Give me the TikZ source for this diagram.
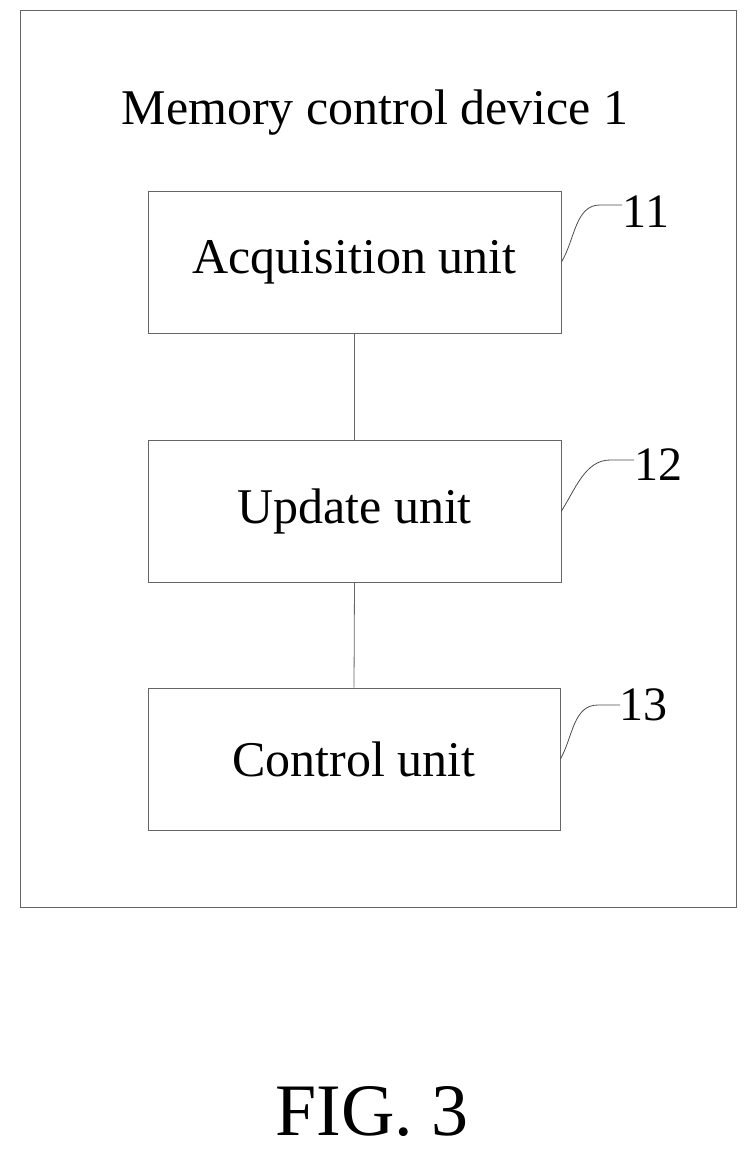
\documentclass[tikz,border=0pt]{standalone}
\usepackage{fontspec}
\setmainfont{Liberation Serif}
\begin{document}
\begin{tikzpicture}[x=1pt,y=-1pt,
  box/.style={draw=black!60,line width=0.8pt,minimum width=413pt,minimum height=142pt,font=\fontsize{50}{54}\selectfont},
  lead/.style={draw=black!70,line width=0.8pt},
  num/.style={font=\fontsize{48}{52}\selectfont}]
\useasboundingbox (0,0) rectangle (750,1160);
\node[draw=black!60,line width=0.8pt,minimum width=716pt,minimum height=897pt] (outer) at (378,458.5) {};
\node[font=\fontsize{50}{54}\selectfont] (title) at (375,113) {Memory control device 1};
\node[box] (a) at (354.5,262) {Acquisition unit};
\node[box] (u) at (354.5,511) {Update unit};
\node[box,minimum width=412pt] (c) at (354,759) {Control unit};
\draw[black!60,line width=0.8pt] (a.south) -- (u.north);
\draw[black!60,line width=0.8pt] (u.south) -- (c.north);
\node[num] (n11) at (646,212) {11};
\node[num] (n12) at (658,465) {12};
\node[num] (n13) at (643,705) {13};
\coordinate (e11) at (622,205);
\coordinate (e12) at (634,460);
\coordinate (e13) at (620,705);
\draw[lead] (a.east) .. controls (575,240) and (575,205) .. (600,205) -- (e11);
\draw[lead] (u.east) .. controls (575,490) and (585,460) .. (610,460) -- (e12);
\draw[lead] (c.east) .. controls (573,737) and (573,705) .. (598,705) -- (e13);
\node[font=\fontsize{74}{78}\selectfont] (fig) at (372,1112) {FIG. 3};
\end{tikzpicture}
\end{document}
